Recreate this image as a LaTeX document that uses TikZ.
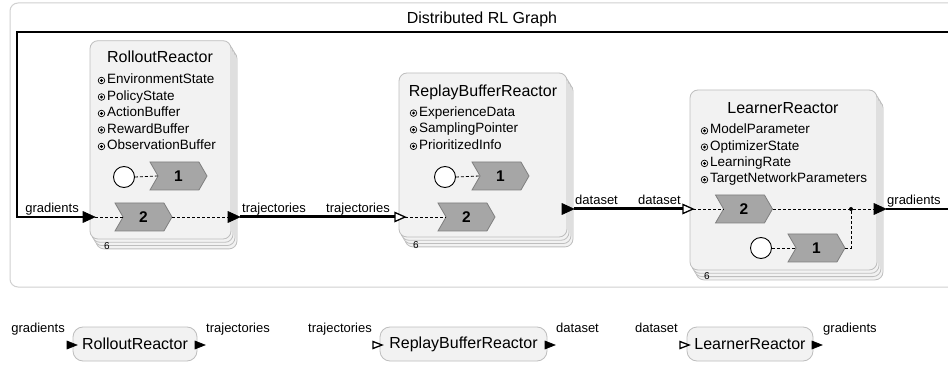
\documentclass[tikz,border=0pt]{standalone}
\usepackage{fontspec}
\setmainfont{Liberation Sans}
\usetikzlibrary{shapes.geometric,shapes.symbols}

\definecolor{boxfill}{HTML}{F2F2F2}
\definecolor{boxline}{HTML}{BEBEBE}
\definecolor{chevfill}{HTML}{A6A6A6}
\definecolor{chevline}{HTML}{7F7F7F}
\definecolor{graphline}{HTML}{D0D0D0}

\begin{document}
\begin{tikzpicture}[x=1pt,y=-1pt,
  reactor/.style={draw=boxline,fill=boxfill,line width=0.8pt,rounded corners=8pt},
  ttl/.style={font=\fontsize{16}{18}\selectfont,inner sep=0pt},
  svar/.style={font=\fontsize{13.5}{15}\selectfont,anchor=west,inner sep=0pt,text height=1.6ex,text depth=0.45ex},
  lbl/.style={font=\fontsize{13}{15}\selectfont,inner sep=0pt,text height=1.6ex,text depth=0.45ex},
  bank/.style={font=\fontsize{10}{12}\selectfont,inner sep=0pt},
  chev/.style={signal,signal from=west,signal to=east,signal pointer angle=120,draw=chevline,fill=chevfill,line width=0.8pt,minimum width=57pt,minimum height=28pt,inner sep=0pt,font=\bfseries\fontsize{15.5}{15.5}\selectfont},
  startup/.style={circle,draw=black,fill=white,line width=0.9pt,minimum size=21pt,inner sep=0pt},
  port/.style={isosceles triangle,isosceles triangle stretches,draw=black,fill=black,line width=0.6pt,inner sep=0pt,outer sep=0pt,minimum width=11pt,minimum height=12pt,anchor=west},
  oport/.style={port,fill=white,line width=1.3pt,minimum width=9pt,minimum height=10pt},
  lport/.style={port,minimum width=8pt,minimum height=10pt},
  dep/.style={densely dashed,line width=0.8pt},
  conn/.style={line width=1.3pt},
  thickconn/.style={line width=3pt}]

\useasboundingbox (0,0) rectangle (948,366);
\clip (0,0) rectangle (948,366);
\fill[white] (0,0) rectangle (948,366);

% graph frame
\draw[draw=graphline,line width=1pt,rounded corners=8pt] (10,3) rectangle (975,287);
\node[ttl] (g_t) at (482,19) {Distributed RL Graph};

% rollout reactor (bank of 6)
\foreach \k in {3,2,1}
  \draw[reactor] (90+2*\k,40.7+3.3*\k) rectangle ++(141,198.3);
\node[reactor,minimum width=141pt,minimum height=198.3pt,inner sep=0pt] (ro) at (160.5,139.85) {};
\node[ttl] (ro_t) at (160,57) {RolloutReactor};
\foreach[count=\i] \s in {EnvironmentState,PolicyState,ActionBuffer,RewardBuffer,ObservationBuffer}
{
  \node[svar] (ro_s\i) at (107,64+16.5*\i) {\s};
  \draw[line width=0.7pt] ([xshift=-5.5pt]ro_s\i.west) circle (3.3pt);
  \fill ([xshift=-5.5pt]ro_s\i.west) circle (1.6pt);
}
\node[bank] (ro_n) at (107,246) {6};
\node[startup] (ro_st) at (124,177) {};
\node[chev] (ro_r1) at (178.5,176) {1};
\node[chev] (ro_r2) at (143.5,217) {2};
\node[port] (ro_in) at (83,217) {};
\node[port] (ro_out) at (228,217) {};
\draw[dep] (ro_st.east) -- (ro_r1.west);
\draw[dep] (ro_in.apex) -- (ro_r2.west);
\draw[dep] (ro_r2.east) -- (ro_out.west);

% replay buffer reactor (bank of 6)
\foreach \k in {3,2,1}
  \draw[reactor] (399+2*\k,73+3.3*\k) rectangle ++(168,164);
\node[reactor,minimum width=168pt,minimum height=164pt,inner sep=0pt] (rp) at (483,155) {};
\node[ttl] (rp_t) at (483,92) {ReplayBufferReactor};
\foreach[count=\i] \s in {ExperienceData,SamplingPointer,PrioritizedInfo}
{
  \node[svar] (rp_s\i) at (419,96.5+16.6*\i) {\s};
  \draw[line width=0.7pt] ([xshift=-5.5pt]rp_s\i.west) circle (3.3pt);
  \fill ([xshift=-5.5pt]rp_s\i.west) circle (1.6pt);
}
\node[bank] (rp_n) at (416,245) {6};
\node[startup] (rp_st) at (445,177) {};
\node[chev] (rp_r1) at (500.5,176) {1};
\node[chev] (rp_r2) at (466.5,217) {2};
\node[oport] (rp_in) at (395,217) {};
\node[port] (rp_out) at (562,209) {};
\draw[dep] (rp_st.east) -- (rp_r1.west);
\draw[dep] (rp_in.apex) -- (rp_r2.west);

% learner reactor (bank of 6)
\foreach \k in {3,2,1}
  \draw[reactor] (690+2*\k,90+3.3*\k) rectangle ++(187,180);
\node[reactor,minimum width=187pt,minimum height=180pt,inner sep=0pt] (le) at (783.5,180) {};
\node[ttl] (le_t) at (783,108) {LearnerReactor};
\foreach[count=\i] \s in {ModelParameter,OptimizerState,LearningRate,TargetNetworkParameters}
{
  \node[svar] (le_s\i) at (710,114.5+16.3*\i) {\s};
  \draw[line width=0.7pt] ([xshift=-5.5pt]le_s\i.west) circle (3.3pt);
  \fill ([xshift=-5.5pt]le_s\i.west) circle (1.6pt);
}
\node[bank] (le_n) at (707,276) {6};
\node[startup] (le_st) at (761,248) {};
\node[chev] (le_r1) at (816.5,248) {1};
\node[chev] (le_r2) at (744,209) {2};
\node[oport] (le_in) at (683,209) {};
\node[port] (le_out) at (874,209) {};
\coordinate (le_j) at (851,209);
\draw[dep] (le_st.east) -- (le_r1.west);
\draw[dep] (le_in.apex) -- (le_r2.west);
\draw[dep] (le_r2.east) -- (le_j) -- (le_out.west);
\draw[dep] (le_r1.east) -| (le_j);
\fill (le_j) circle (2pt);

% connections
\coordinate (fb_ne) at (980,32);
\coordinate (fb_nw) at (17,32);
\draw[conn] (le_out.apex) -| (fb_ne) -- (fb_nw) |- (ro_in.west);
\draw[thickconn] (ro_out.apex) -- (rp_in.west);
\draw[thickconn] (rp_out.apex) -- (le_in.west);

\node[lbl,anchor=south east] (ro_in_l) at ([xshift=-4pt,yshift=2pt]ro_in.west) {gradients};
\node[lbl,anchor=south west] (ro_out_l) at ([xshift=2pt,yshift=2pt]ro_out.apex) {trajectories};
\node[lbl,anchor=south east] (rp_in_l) at ([xshift=-5pt,yshift=2pt]rp_in.west) {trajectories};
\node[lbl,anchor=south west] (rp_out_l) at ([xshift=1pt,yshift=2pt]rp_out.apex) {dataset};
\node[lbl,anchor=south east] (le_in_l) at ([xshift=-2pt,yshift=2pt]le_in.west) {dataset};
\node[lbl,anchor=south west] (le_out_l) at ([xshift=1pt,yshift=2pt]le_out.apex) {gradients};

% legend row
\node[reactor,rounded corners=10pt,minimum width=124pt,minimum height=34pt,inner sep=0pt,font=\fontsize{16}{18}\selectfont] (lg_ro) at (135,344) {RolloutReactor};
\node[lport] (lg_ro_in) at (67,345) {};
\node[lport] (lg_ro_out) at (195,345) {};
\node[lbl,anchor=south east] (lg_ro_inl) at ([xshift=-2pt,yshift=10pt]lg_ro_in.west) {gradients};
\node[lbl,anchor=south west] (lg_ro_outl) at ([xshift=1pt,yshift=10pt]lg_ro_out.apex) {trajectories};

\node[reactor,rounded corners=10pt,minimum width=167pt,minimum height=34pt,inner sep=0pt,font=\fontsize{16}{18}\selectfont] (lg_rp) at (463.5,344) {ReplayBufferReactor};
\node[oport,minimum width=7pt,minimum height=9pt] (lg_rp_in) at (373,345) {};
\node[lport] (lg_rp_out) at (545,345) {};
\node[lbl,anchor=south east] (lg_rp_inl) at ([xshift=-1pt,yshift=10pt]lg_rp_in.west) {trajectories};
\node[lbl,anchor=south west] (lg_rp_outl) at ([xshift=1pt,yshift=10pt]lg_rp_out.apex) {dataset};

\node[reactor,rounded corners=10pt,minimum width=126pt,minimum height=34pt,inner sep=0pt,font=\fontsize{16}{18}\selectfont] (lg_le) at (750,344) {LearnerReactor};
\node[oport,minimum width=7pt,minimum height=9pt] (lg_le_in) at (680,345) {};
\node[lport] (lg_le_out) at (812,345) {};
\node[lbl,anchor=south east] (lg_le_inl) at ([xshift=-2pt,yshift=10pt]lg_le_in.west) {dataset};
\node[lbl,anchor=south west] (lg_le_outl) at ([xshift=1pt,yshift=10pt]lg_le_out.apex) {gradients};

\end{tikzpicture}
\end{document}
